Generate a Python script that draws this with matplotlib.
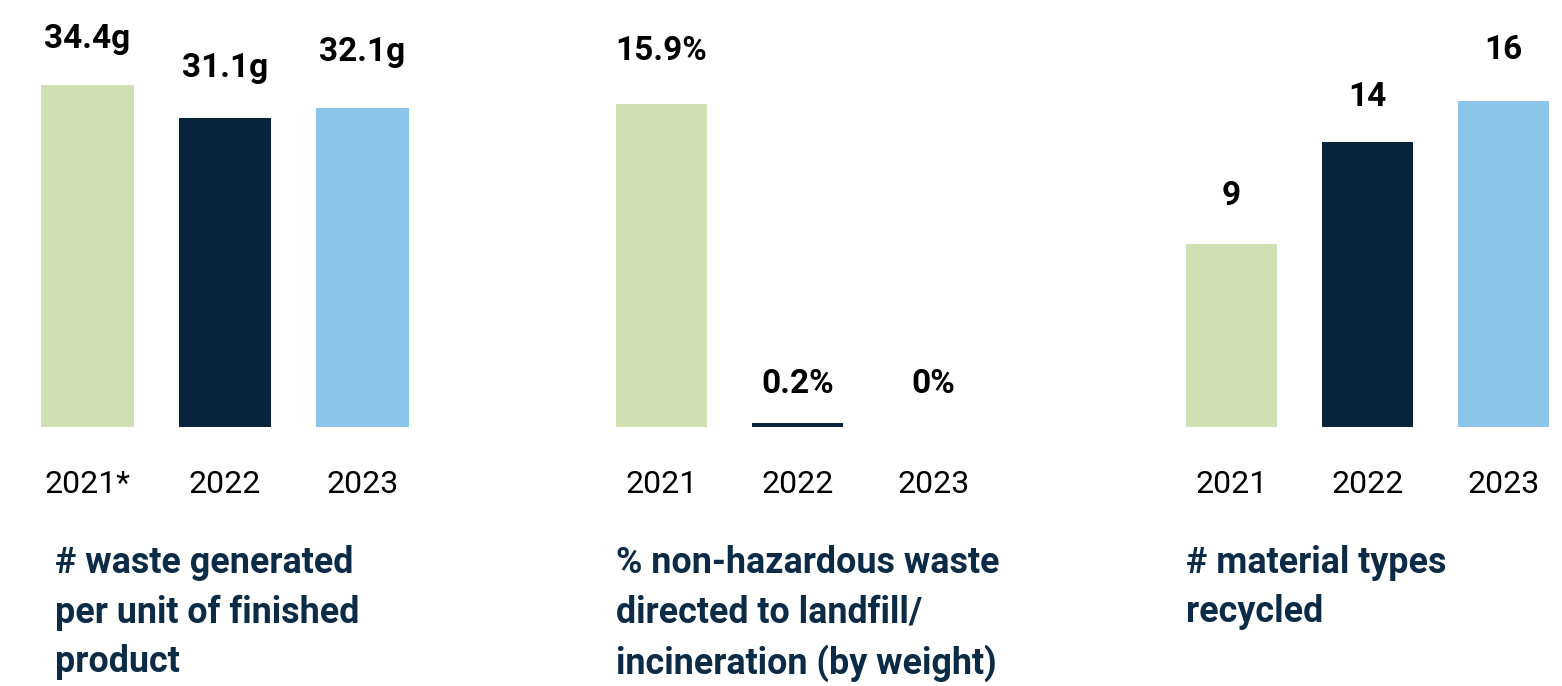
import matplotlib.pyplot as plt

# data
years_waste = ["2021*", "2022", "2023"]
waste_per_unit = [34.4, 31.1, 32.1]
waste_labels = ["34.4g", "31.1g", "32.1g"]

years_landfill = ["2021", "2022", "2023"]
landfill_pct = [15.9, 0.2, 0.0]
landfill_labels = ["15.9%", "0.2%", "0%"]

years_recycled = ["2021", "2022", "2023"]
material_types = [9, 14, 16]
material_labels = ["9", "14", "16"]

titles = ["# waste generated\nper unit of finished\nproduct",
          "% non-hazardous waste\ndirected to landfill/\nincineration (by weight)",
          "# material types\nrecycled"]

colors = ["#D0E0B2", "#08243D", "#8DC4EA"]
title_color = "#0B2B47"

W, H = 1562, 686
fig = plt.figure(figsize=(W / 100, H / 100), dpi=100)
fig.patch.set_facecolor("white")

# layout (pixels): axis left, axis width, y max, value label offsets (px), title x
panels = [
    (years_waste, waste_per_unit, waste_labels, 18.75, 412.5, 42.95, [37, 41, 47], 55),
    (years_landfill, landfill_pct, landfill_labels, 593.5, 408, 21.03, [44, 30, 34], 616),
    (years_recycled, material_types, material_labels, 1163.5, 408, 20.95, [39, 36, 42], 1186),
]

base_y = 427  # bar baseline, from top
for (cats, vals, labs, left, width, ymax, offs, tx), title in zip(panels, titles):
    ax = fig.add_axes([left / W, (H - base_y) / H, width / W, base_y / H])
    x = range(len(cats))
    bars = ax.bar(x, vals, width=0.67, color=colors)
    ax.set_xlim(-0.5, 2.5)
    ax.set_ylim(0, ymax)
    for b, lab, off in zip(bars, labs, offs):
        ax.annotate(lab, (b.get_x() + b.get_width() / 2, b.get_height()),
                    xytext=(0, off * 0.72), textcoords="offset points",
                    ha="center", va="baseline", fontsize=24,
                    fontfamily="Roboto", fontweight="bold", color="black",
                    annotation_clip=False)
    ax.set_xticks(list(x))
    ax.set_xticklabels(cats, fontsize=23, fontfamily="Roboto", color="black")
    ax.tick_params(axis="x", length=0, pad=31)
    ax.set_yticks([])
    for s in ax.spines.values():
        s.set_visible(False)
    ax.patch.set_alpha(0)

    fig.text(tx / W, 1 - 545 / H, title, ha="left", va="top", fontsize=25.8,
             fontfamily="Roboto", fontweight="bold", color=title_color,
             linespacing=1.47)

fig.savefig("out.png", dpi=100)
